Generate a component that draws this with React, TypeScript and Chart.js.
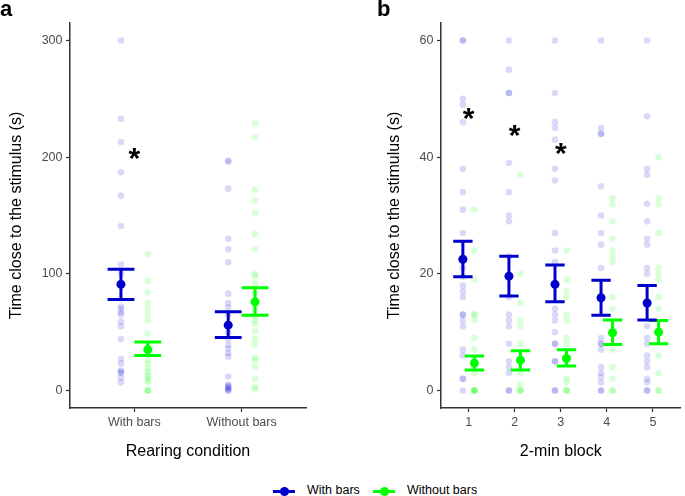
import React, { useEffect, useRef } from "react";
import { Chart, registerables } from "chart.js";

Chart.register(...registerables);

const FONT = '"Liberation Sans", Arial, sans-serif';
const BLUE = "#0000CD";
const GREEN = "#00FF00";
const BLUE_FAINT = "rgba(0,0,205,0.15)";
const GREEN_FAINT = "rgba(0,255,0,0.15)";
const AXIS = "#333333";
const TICK_TEXT = "#4d4d4d";

const seriesNames = ["With bars", "Without bars"];

// ---------- Panel a ----------
const rearingConditions = ["With bars", "Without bars"];
const aRawWithBars = [
  [300, 233, 213, 187, 167, 141, 108, 100, 72, 70, 67, 65, 59, 55, 44, 27, 23, 17, 16, 15, 11, 7],
  [197, 196, 173, 130, 121, 110, 83, 75, 71, 65, 55, 50, 44, 39, 36, 32, 29, 12, 5, 4, 3, 2, 1, 0, 0],
];
const aRawWithoutBars = [
  [117, 94, 84, 75, 70, 65, 60, 49, 38, 26, 23, 19, 16, 13, 11, 9, 7, 0, 0, 0],
  [229, 217, 172, 163, 152, 134, 121, 100, 98, 92, 84, 70, 64, 60, 57, 51, 44, 39, 28, 26, 20, 10, 3, 1],
];
const aMeanWithBars = [91, 56];
const aLowWithBars = [78, 45.5];
const aHighWithBars = [104, 67.5];
const aMeanWithoutBars = [35, 76];
const aLowWithoutBars = [30, 64.5];
const aHighWithoutBars = [41.5, 88];
const aTicksY = [0, 100, 200, 300];
const aSigX = [1];
const aSigY = [205];

// ---------- Panel b ----------
const blocks = ["1", "2", "3", "4", "5"];
const bRawWithBars = [
  [60, 60, 50, 49, 46, 38, 34, 31, 27, 21, 19.5, 18, 17, 16, 13, 13, 12, 11, 7, 6, 2, 2, 0],
  [60, 55, 51, 51, 39, 34, 30, 29, 23, 16, 13, 12, 11, 8, 5, 4, 3, 0, 0],
  [60, 51, 46, 45, 43, 38, 36, 27, 24, 22, 14, 13, 12, 10, 8, 8, 5, 5, 0, 0],
  [60, 45, 44, 44, 35, 30, 27, 25, 21, 9, 8, 8, 7, 4, 3, 2.3, 1.4, 0, 0],
  [60, 47, 38, 37, 32, 29, 26, 25, 21, 20, 11, 9, 8, 6, 5, 4, 2, 1.4, 0, 0],
];
const bRawWithoutBars = [
  [31, 24, 19, 13, 13, 12, 9, 7, 4.5, 3, 0, 0, 0, 0, 0],
  [37, 20, 15, 12, 11, 8, 3, 1, 0, 0, 0],
  [24, 19, 17, 16, 13, 12, 9, 8, 2, 1.4, 0, 0, 0],
  [33, 32, 29, 26, 24, 23, 22, 16, 14, 7, 4, 2, 0, 0],
  [40, 33, 32, 27, 21, 20, 19, 16, 14, 6, 3, 0, 0],
];
const bMeanWithBars = [22.5, 19.6, 18.2, 15.9, 15.0];
const bLowWithBars = [19.5, 16.2, 15.2, 12.9, 12.1];
const bHighWithBars = [25.6, 23.0, 21.5, 18.9, 18.0];
const bMeanWithoutBars = [4.7, 5.2, 5.5, 9.9, 10.0];
const bLowWithoutBars = [3.5, 3.5, 4.2, 7.9, 8.0];
const bHighWithoutBars = [5.9, 6.8, 7.0, 12.1, 12.0];
const bTicksY = [0, 20, 40, 60];
const bSigX = [1, 2, 3];
const bSigY = [48, 45, 42];

const yTitle = "Time close to the stimulus (s)";
const DODGE = 0.125;

type PanelCfg = {
  categories: string[];
  rawWith: number[][];
  rawWithout: number[][];
  meanWith: number[];
  lowWith: number[];
  highWith: number[];
  meanWithout: number[];
  lowWithout: number[];
  highWithout: number[];
  yMin: number;
  yMax: number;
  yTicks: number[];
  capW: number;
  sigX: number[];
  sigY: number[];
  xTitle: string;
  padLeft: number;
  padRight: number;
  yWidth: number;
  xHeight: number;
};

function rawPoints(raw: number[][], off: number) {
  const pts: { x: number; y: number }[] = [];
  raw.forEach((vals, i) => vals.forEach((v) => pts.push({ x: i + 1 + off, y: v })));
  return pts;
}

function errPath(lo: number[], hi: number[], off: number, capW: number) {
  const pts: { x: number; y: number | null }[] = [];
  lo.forEach((l, i) => {
    const c = i + 1 + off;
    const h = hi[i];
    pts.push({ x: c - capW / 2, y: h }, { x: c + capW / 2, y: h }, { x: c, y: null });
    pts.push({ x: c, y: h }, { x: c, y: l }, { x: c, y: null });
    pts.push({ x: c - capW / 2, y: l }, { x: c + capW / 2, y: l }, { x: c, y: null });
  });
  return pts;
}

function makeChart(canvas: HTMLCanvasElement, cfg: PanelCfg) {
  const n = cfg.categories.length;
  const sigPlugin = {
    id: "sig",
    afterDatasetsDraw(chart: any) {
      const { ctx } = chart;
      const xs = chart.scales.x;
      const ys = chart.scales.y;
      const size = 30;
      ctx.save();
      ctx.font = `bold ${size}px ${FONT}`;
      ctx.fillStyle = "#000";
      ctx.textAlign = "center";
      ctx.textBaseline = "alphabetic";
      cfg.sigX.forEach((sx, i) => {
        ctx.fillText("*", xs.getPixelForValue(sx), ys.getPixelForValue(cfg.sigY[i]) + 0.57 * size);
      });
      ctx.restore();
    },
  };
  const grid = {
    display: true,
    drawOnChartArea: false,
    drawTicks: true,
    tickLength: 4,
    tickColor: AXIS,
    tickWidth: 1.2,
    color: AXIS,
  };
  return new Chart(canvas, {
    type: "scatter",
    data: {
      datasets: [
        {
          label: seriesNames[0] + " mean",
          data: cfg.meanWith.map((m, i) => ({ x: i + 1 - DODGE, y: m })),
          pointRadius: 4.5,
          backgroundColor: BLUE,
          borderWidth: 0,
          order: 0,
        },
        {
          label: seriesNames[1] + " mean",
          data: cfg.meanWithout.map((m, i) => ({ x: i + 1 + DODGE, y: m })),
          pointRadius: 4.5,
          backgroundColor: GREEN,
          borderWidth: 0,
          order: 0,
        },
        {
          type: "line",
          label: seriesNames[0] + " se",
          data: errPath(cfg.lowWith, cfg.highWith, -DODGE, cfg.capW),
          borderColor: BLUE,
          borderWidth: 3,
          pointRadius: 0,
          spanGaps: false,
          fill: false,
          order: 1,
        },
        {
          type: "line",
          label: seriesNames[1] + " se",
          data: errPath(cfg.lowWithout, cfg.highWithout, DODGE, cfg.capW),
          borderColor: GREEN,
          borderWidth: 3,
          pointRadius: 0,
          spanGaps: false,
          fill: false,
          order: 1,
        },
        {
          label: seriesNames[0],
          data: rawPoints(cfg.rawWith, -DODGE),
          pointRadius: 3.3,
          backgroundColor: BLUE_FAINT,
          borderWidth: 0,
          order: 2,
        },
        {
          label: seriesNames[1],
          data: rawPoints(cfg.rawWithout, DODGE),
          pointRadius: 3.3,
          backgroundColor: GREEN_FAINT,
          borderWidth: 0,
          order: 2,
        },
      ] as any,
    },
    options: {
      animation: false,
      responsive: false,
      devicePixelRatio: 1,
      events: [],
      layout: { padding: { left: cfg.padLeft, right: cfg.padRight, top: 23, bottom: 0 } },
      plugins: { legend: { display: false }, tooltip: { enabled: false } },
      scales: {
        x: {
          type: "linear",
          min: 0.4,
          max: n + 0.6,
          afterBuildTicks: (s: any) => {
            s.ticks = cfg.categories.map((_, i) => ({ value: i + 1 }));
          },
          afterFit: (s: any) => {
            s.height = cfg.xHeight;
          },
          ticks: {
            callback: (_v: any, i: number) => cfg.categories[i],
            color: TICK_TEXT,
            font: { family: FONT, size: 12.5 },
            padding: 3,
            maxRotation: 0,
            autoSkip: false,
          },
          grid,
          border: { display: true, color: AXIS, width: 1.5 },
          title: {
            display: true,
            text: cfg.xTitle,
            color: "#000",
            font: { family: FONT, size: 16 },
            padding: { top: 0, bottom: 8.4 },
          },
        },
        y: {
          type: "linear",
          min: cfg.yMin,
          max: cfg.yMax,
          afterBuildTicks: (s: any) => {
            s.ticks = cfg.yTicks.map((v) => ({ value: v }));
          },
          afterFit: (s: any) => {
            s.width = cfg.yWidth;
          },
          ticks: {
            callback: (_v: any, i: number) => String(cfg.yTicks[i]),
            color: TICK_TEXT,
            font: { family: FONT, size: 12.5 },
            padding: 3.5,
            autoSkip: false,
          },
          grid,
          border: { display: true, color: AXIS, width: 1.5 },
          title: {
            display: true,
            text: yTitle,
            color: "#000",
            font: { family: FONT, size: 16 },
            padding: { top: 7.4, bottom: 0 },
          },
        },
      },
    } as any,
    plugins: [sigPlugin],
  });
}

const panelA: PanelCfg = {
  categories: rearingConditions,
  rawWith: aRawWithBars,
  rawWithout: aRawWithoutBars,
  meanWith: aMeanWithBars,
  lowWith: aLowWithBars,
  highWith: aHighWithBars,
  meanWithout: aMeanWithoutBars,
  lowWithout: aLowWithoutBars,
  highWithout: aHighWithoutBars,
  yMin: -15,
  yMax: 315,
  yTicks: aTicksY,
  capW: 0.25,
  sigX: aSigX,
  sigY: aSigY,
  xTitle: "Rearing condition",
  padLeft: 0,
  padRight: 34,
  yWidth: 70,
  xHeight: 62,
};

const panelB: PanelCfg = {
  categories: blocks,
  rawWith: bRawWithBars,
  rawWithout: bRawWithoutBars,
  meanWith: bMeanWithBars,
  lowWith: bLowWithBars,
  highWith: bHighWithBars,
  meanWithout: bMeanWithoutBars,
  lowWithout: bLowWithoutBars,
  highWithout: bHighWithoutBars,
  yMin: -3,
  yMax: 63,
  yTicks: bTicksY,
  capW: 0.42,
  sigX: bSigX,
  sigY: bSigY,
  xTitle: "2-min block",
  padLeft: 38,
  padRight: 0,
  yWidth: 63,
  xHeight: 62,
};

function LegendItem({ color, label, lineLeft, textLeft }: { color: string; label: string; lineLeft: number; textLeft: number }) {
  return (
    <>
      <div style={{ position: "absolute", left: lineLeft, top: 490, width: 22, height: 3, background: color }} />
      <div
        style={{
          position: "absolute",
          left: lineLeft + 11 - 4.5,
          top: 491.5 - 4.5,
          width: 9,
          height: 9,
          borderRadius: "50%",
          background: color,
        }}
      />
      <div
        style={{
          position: "absolute",
          left: textLeft,
          top: 483.2,
          font: `12.5px ${FONT}`,
          lineHeight: "14px",
          color: "#000",
          whiteSpace: "nowrap",
        }}
      >
        {label}
      </div>
    </>
  );
}

export default function App() {
  const refA = useRef<HTMLCanvasElement>(null);
  const refB = useRef<HTMLCanvasElement>(null);
  useEffect(() => {
    const ca = makeChart(refA.current!, panelA);
    const cb = makeChart(refB.current!, panelB);
    return () => {
      ca.destroy();
      cb.destroy();
    };
  }, []);
  return (
    <div
      style={{
        position: "absolute",
        left: 0,
        top: 0,
        width: 685,
        height: 496,
        background: "#fff",
        overflow: "hidden",
        fontFamily: FONT,
      }}
    >
      <canvas ref={refA} width={340} height={470} style={{ position: "absolute", left: 0, top: 0, width: 340, height: 470 }} />
      <canvas ref={refB} width={345} height={470} style={{ position: "absolute", left: 340, top: 0, width: 345, height: 470 }} />
      <div style={{ position: "absolute", left: 0, top: -2, font: `bold 22px ${FONT}`, lineHeight: "22px", color: "#000" }}>a</div>
      <div style={{ position: "absolute", left: 377, top: -2, font: `bold 22px ${FONT}`, lineHeight: "22px", color: "#000" }}>b</div>
      <LegendItem color={BLUE} label={seriesNames[0]} lineLeft={273} textLeft={307} />
      <LegendItem color={GREEN} label={seriesNames[1]} lineLeft={373} textLeft={407} />
    </div>
  );
}
